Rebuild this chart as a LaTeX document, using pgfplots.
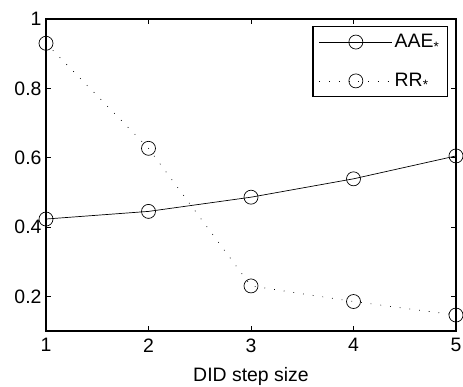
\documentclass[border=0pt]{standalone}
\usepackage{pgfplots}
\pgfplotsset{compat=1.18}
\usepackage{fontspec}
\setmainfont{Liberation Sans}
\begin{document}
\begin{tikzpicture}
\begin{axis}[
  name=ax,
  scale only axis,
  width=410bp, height=312bp,
  xmin=1, xmax=5, ymin=0.1, ymax=1,
  xtick={1,2,3,4,5},
  ytick={0.2,0.4,0.6,0.8,1},
  yticklabels={0.2,0.4,0.6,0.8,1},
  tick align=inside,
  major tick length=5bp,
  tick style={black, line width=0.6pt},
  axis line style={line width=1.1pt},
  /pgf/number format/assume math mode=true,
  ticklabel style={font=\fontsize{19.5}{22}\selectfont},
  xticklabel style={yshift=-4bp},
  yticklabel style={xshift=-1bp},
  xlabel={DID step size},
  xlabel style={font=\fontsize{19.5}{22}\selectfont, yshift=-8bp},
  legend style={at={(0.9805,0.9776)}, anchor=north east, draw=black, line width=1.3pt,
    font=\fontsize{19.5}{22}\selectfont, row sep=20bp, inner xsep=6bp, inner ysep=6bp},
  legend cell align=left,
  legend image code/.code={\draw[mark repeat=2,mark phase=2, line width=0.7pt] plot coordinates {(0bp,0bp)(36.5bp,0bp)(73bp,0bp)};},
]
\addplot[black, line width=0.7pt, mark=o, mark size=7bp, mark options={solid, line width=0.7pt}]
  coordinates {(1,0.423) (2,0.445) (3,0.486) (4,0.539) (5,0.605)};
\addlegendentry{AAE\textsubscript{*}}
\addplot[black, line width=0.7pt, dash pattern=on 0.8pt off 9pt, mark=o, mark size=7bp, mark options={solid, line width=0.7pt}]
  coordinates {(1,0.93) (2,0.627) (3,0.23) (4,0.185) (5,0.146)};
\addlegendentry{RR\textsubscript{*}}
\end{axis}
\pgfresetboundingbox
\path ([shift={(-46bp,-56bp)}]ax.south west) rectangle ([shift={(7bp,19bp)}]ax.north east);
\end{tikzpicture}
\end{document}
